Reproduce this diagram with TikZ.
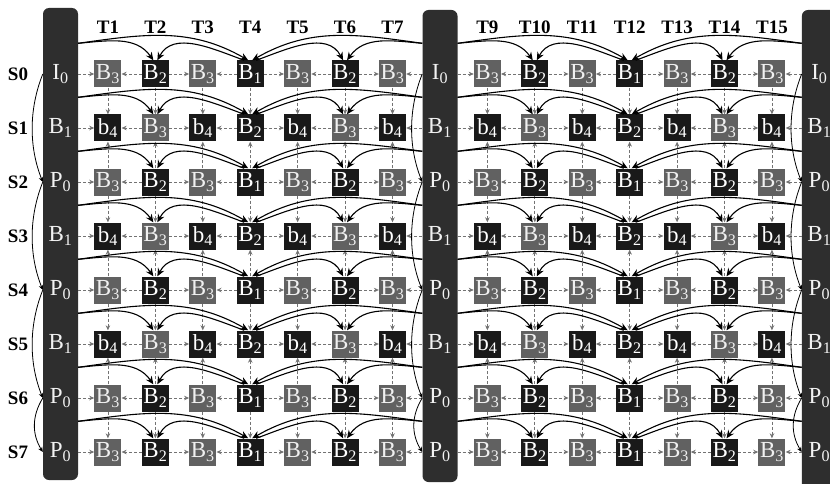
\documentclass[tikz,border=0pt]{standalone}
\usepackage{fontspec}
\setmainfont{Liberation Serif}
\usetikzlibrary{arrows.meta}
\begin{document}
\begin{tikzpicture}[x=1pt,y=1pt,
  cellb/.style={fill=black!90, minimum width=27pt, minimum height=27pt, inner sep=0pt, text=white, font=\fontsize{23}{23}\selectfont},
  cellg/.style={cellb, fill=black!62, text=black!6},
  anch/.style={minimum width=35pt, minimum height=27pt, inner sep=0pt, text=black!5, font=\fontsize{23}{23}\selectfont},
  bar/.style={fill=black!82, rounded corners=6pt, minimum width=35pt, inner sep=0pt},
  lab/.style={font=\bfseries\fontsize{19}{19}\selectfont},
  harr/.style={draw=black!55, line width=0.7pt, densely dashed, -{Stealth[length=5pt,width=4.5pt]}},
  carr/.style={draw=black, line width=1.1pt, -{Stealth[length=8pt,width=7pt]}},
  sarr/.style={draw=black, line width=0.8pt, -{Stealth[length=5pt,width=4.5pt]}},
]
\useasboundingbox (0,0) rectangle (830,483);
\clip (0,0) rectangle (830,483);
% anchor bars
\node[bar, minimum height=472pt] (bar0) at (60.5,239) {};
\node[bar, minimum height=472pt] (bar8) at (440,237) {};
\node[bar, minimum height=480pt] (bar16) at (819.4,233) {};
% anchor cells
\foreach \r/\L/\s in {0/I/0,1/B/1,2/P/0,3/B/1,4/P/0,5/B/1,6/P/0,7/P/0} {
  \foreach \c in {0,8,16} {
    \node[anch] (n-\c-\r) at ({60.5+47.43*\c},{409-54*\r}) {\L\textsubscript{\s}};
  }
}
% non-anchor cells
\def\Prow{1/B/3/cellg,2/B/2/cellb,3/B/3/cellg,4/B/1/cellb,5/B/3/cellg,6/B/2/cellb,7/B/3/cellg}
\def\Brow{1/b/4/cellb,2/B/3/cellg,3/b/4/cellb,4/B/2/cellb,5/b/4/cellb,6/B/3/cellg,7/b/4/cellb}
\foreach \r in {0,2,4,6,7} {
  \foreach \h in {0,8} {
    \foreach \k/\L/\s/\st in \Prow {
      \pgfmathtruncatemacro\c{\h+\k}
      \node[\st] (n-\c-\r) at ({60.5+47.43*\c},{409-54*\r}) {\L\textsubscript{\s}};
    }
  }
}
\foreach \r in {1,3,5} {
  \foreach \h in {0,8} {
    \foreach \k/\L/\s/\st in \Brow {
      \pgfmathtruncatemacro\c{\h+\k}
      \node[\st] (n-\c-\r) at ({60.5+47.43*\c},{409-54*\r}) {\L\textsubscript{\s}};
    }
  }
}
% labels
\foreach \c in {1,2,3,4,5,6,7,9,10,11,12,13,14,15}
  \node[lab] (t-\c) at ({60.5+47.43*\c},456) {T\c};
\foreach \r in {0,...,7}
  \node[lab] (s-\r) at (18,{409-54*\r}) {S\r};
% horizontal arrows
\foreach \r in {0,...,7} {
  \foreach \h in {0,8} {
    \foreach \a/\b in {0/1,2/1,2/3,4/3,4/5,6/5,6/7,8/7} {
      \pgfmathtruncatemacro\ca{\h+\a}
      \pgfmathtruncatemacro\cb{\h+\b}
      \draw[harr] (n-\ca-\r) -- (n-\cb-\r);
    }
  }
}
% vertical arrows
\foreach \c in {1,2,3,4,5,6,7,9,10,11,12,13,14,15} {
  \foreach \a/\b in {0/1,2/1,2/3,4/3,4/5,6/5,6/7}
    \draw[harr] (n-\c-\a) -- (n-\c-\b);
}
% curved temporal arrows
\foreach \r in {0,...,7} {
  \foreach \h in {0,8} {
    \pgfmathtruncatemacro\cA{\h+2}
    \pgfmathtruncatemacro\cB{\h+4}
    \pgfmathtruncatemacro\cC{\h+6}
    \pgfmathtruncatemacro\cD{\h+8}
    \draw[carr] ([yshift=17pt]n-\h-\r.north east) to[out=5,in=125] ([xshift=-2pt]n-\cA-\r.north);
    \draw[carr] ([yshift=17pt]n-\h-\r.north east) to[out=8,in=150] ([xshift=-2pt]n-\cB-\r.north);
    \draw[carr] ([xshift=-6pt]n-\cB-\r.north) to[out=160,in=62] ([xshift=2pt]n-\cA-\r.north);
    \draw[carr] ([xshift=6pt]n-\cB-\r.north) to[out=20,in=118] ([xshift=-2pt]n-\cC-\r.north);
    \draw[carr] ([yshift=17pt]n-\cD-\r.north west) to[out=175,in=55] ([xshift=2pt]n-\cC-\r.north);
    \draw[carr] ([yshift=17pt]n-\cD-\r.north west) to[out=172,in=30] ([xshift=2pt]n-\cB-\r.north);
  }
}
% inter-view arcs at anchor columns
\foreach \c in {0,8,16} {
  \foreach \a/\b in {0/2,2/4,4/6}
    \draw[sarr] (n-\c-\a.west) .. controls +(-14,-35) and +(-14,35) .. (n-\c-\b.west);
  \draw[sarr] (n-\c-6.west) .. controls +(-11,-18) and +(-11,18) .. (n-\c-7.west);
}
\end{tikzpicture}
\end{document}
